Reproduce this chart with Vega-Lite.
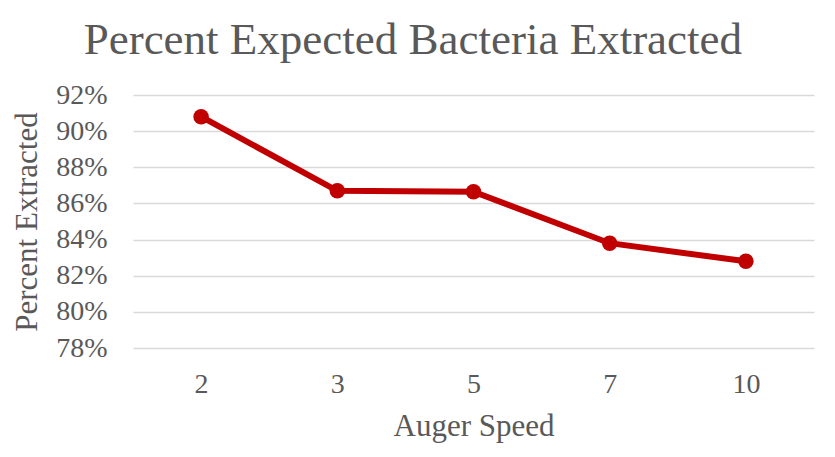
{
  "$schema": "https://vega.github.io/schema/vega-lite/v6.json",
  "autosize": {"type": "none"},
  "padding": {"left": 133, "top": 95, "right": 21, "bottom": 109},
  "width": 681,
  "height": 253,
  "background": "white",
  "title": {
    "text": "Percent Expected Bacteria Extracted",
    "font": "Liberation Serif",
    "fontSize": 45,
    "fontWeight": "normal",
    "color": "#595959",
    "anchor": "middle",
    "frame": "bounds",
    "offset": 18
  },
  "data": {
    "values": [
      {"speed": "2", "pct": 0.908},
      {"speed": "3", "pct": 0.867},
      {"speed": "5", "pct": 0.8665},
      {"speed": "7", "pct": 0.838},
      {"speed": "10", "pct": 0.828}
    ]
  },
  "config": {
    "view": {"stroke": null},
    "axis": {
      "labelFont": "Liberation Serif",
      "labelFontSize": 28,
      "labelColor": "#595959",
      "titleFont": "Liberation Serif",
      "titleFontSize": 31,
      "titleFontWeight": "normal",
      "titleColor": "#595959",
      "domain": false,
      "ticks": false
    }
  },
  "encoding": {
    "x": {
      "field": "speed",
      "type": "ordinal",
      "sort": null,
      "axis": {"title": "Auger Speed", "labelAngle": 0, "labelPadding": 22, "titlePadding": 13, "grid": false}
    },
    "y": {
      "field": "pct",
      "type": "quantitative",
      "scale": {"domain": [0.78, 0.92], "zero": false, "nice": false},
      "axis": {
        "title": "Percent Extracted",
        "format": ".0%",
        "values": [0.78, 0.80, 0.82, 0.84, 0.86, 0.88, 0.90, 0.92],
        "labelPadding": 26,
        "titlePadding": 12,
        "grid": true,
        "gridColor": "#d9d9d9",
        "gridWidth": 1.5
      }
    }
  },
  "layer": [
    {"mark": {"type": "line", "color": "#C00000", "strokeWidth": 6}},
    {"mark": {"type": "point", "filled": true, "size": 240, "color": "#C00000", "opacity": 1}}
  ]
}
